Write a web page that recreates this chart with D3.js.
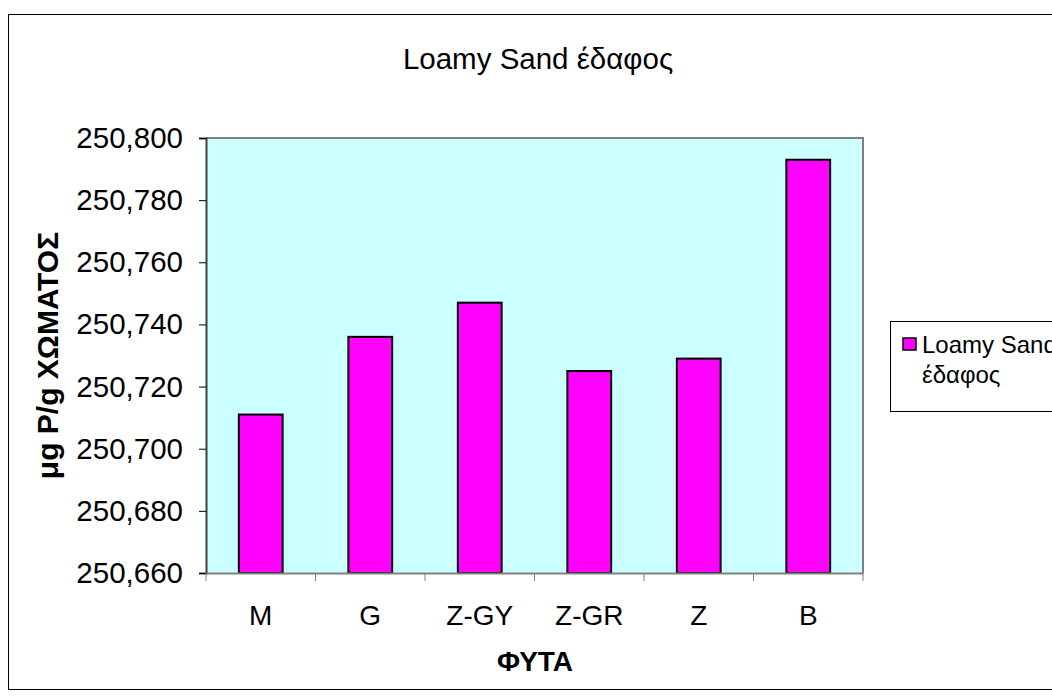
<!DOCTYPE html>
<html>
<head>
<meta charset="utf-8">
<script src="https://cdn.jsdelivr.net/npm/d3@7"></script>
<style>
  html, body { margin: 0; padding: 0; background: #ffffff; }
  svg { display: block; }
  text { font-family: "Liberation Sans", Arial, sans-serif; fill: #000; }
</style>
</head>
<body>
<svg id="chart" width="1052" height="698"></svg>
<script>
// Plant categories and measured soil P (μg P/g soil)
const categories = ["M", "G", "Z-GY", "Z-GR", "Z", "B"];
const values = [250.711, 250.736, 250.747, 250.725, 250.729, 250.793];
const yTicks = [250.660, 250.680, 250.700, 250.720, 250.740, 250.760, 250.780, 250.800];
const seriesName = ["Loamy Sand", "έδαφος"];
const chartTitle = "Loamy Sand έδαφος";
const xTitle = "ΦΥΤΑ";
const yTitle = "μg P/g ΧΩΜΑΤΟΣ";

const svg = d3.select("#chart");
const plot = { left: 206, right: 863, top: 138, bottom: 573 };

// Comma as decimal separator
const loc = d3.formatLocale({ decimal: ",", thousands: ".", grouping: [3], currency: ["", ""] });
const fmt = loc.format(".3f");

// Outer chart frame
svg.append("rect")
  .attr("x", 8.5).attr("y", 14.5)
  .attr("width", 1100).attr("height", 675)
  .attr("fill", "#fff").attr("stroke", "#000").attr("stroke-width", 1);

const x = d3.scaleBand().domain(categories).range([plot.left, plot.right]).padding(0);
const y = d3.scaleLinear().domain([250.66, 250.80]).range([plot.bottom, plot.top]);

// Plot area background
svg.append("rect")
  .attr("x", plot.left).attr("y", plot.top)
  .attr("width", plot.right - plot.left).attr("height", plot.bottom - plot.top)
  .attr("fill", "#CCFFFF");

// Plot area frame (top and right)
svg.append("path")
  .attr("d", `M${plot.left},${plot.top}H${plot.right}V${plot.bottom}`)
  .attr("fill", "none").attr("stroke", "#808080").attr("stroke-width", 2);

// Bars
const barW = x.bandwidth() * 0.4;
svg.append("g").selectAll("rect")
  .data(categories)
  .join("rect")
  .attr("x", (d) => x(d) + (x.bandwidth() - barW) / 2)
  .attr("y", (d, i) => y(values[i]))
  .attr("width", barW)
  .attr("height", (d, i) => y(250.66) - y(values[i]))
  .attr("fill", "#FF00FF")
  .attr("stroke", "#000")
  .attr("stroke-width", 2);

// Y axis
const yAxis = svg.append("g")
  .attr("transform", `translate(${plot.left},0)`)
  .call(d3.axisLeft(y).tickValues(yTicks).tickFormat(fmt).tickSize(7).tickPadding(16));
yAxis.select(".domain").attr("stroke", "#404040").attr("stroke-width", 2);
yAxis.selectAll(".tick line").attr("stroke", "#000");
yAxis.selectAll(".tick text")
  .style("font-family", "'Liberation Sans', Arial, sans-serif")
  .style("font-size", "29.5px").attr("fill", "#000");

// X axis with ticks at category boundaries
const xAxis = svg.append("g")
  .attr("transform", `translate(0,${plot.bottom})`)
  .call(d3.axisBottom(x).tickSize(0).tickPadding(32));
xAxis.select(".domain").attr("stroke", "#808080").attr("stroke-width", 2);
xAxis.selectAll(".tick text")
  .style("font-family", "'Liberation Sans', Arial, sans-serif")
  .style("font-size", "28px").attr("fill", "#000");
const bounds = categories.map((d) => x(d)).concat([plot.right]);
svg.append("g").selectAll("line")
  .data(bounds)
  .join("line")
  .attr("x1", (d) => d).attr("x2", (d) => d)
  .attr("y1", plot.bottom).attr("y2", plot.bottom + 8)
  .attr("stroke", "#808080").attr("stroke-width", 1);

// Titles
svg.append("text")
  .attr("x", 538).attr("y", 69)
  .attr("text-anchor", "middle")
  .style("font-size", "29.5px")
  .text(chartTitle);

svg.append("text")
  .attr("x", 535).attr("y", 671)
  .attr("text-anchor", "middle")
  .style("font-size", "28px").style("font-weight", "bold")
  .text(xTitle);

svg.append("text")
  .attr("transform", `translate(58,${(plot.top + plot.bottom) / 2}) rotate(-90)`)
  .attr("text-anchor", "middle")
  .style("font-size", "30px").style("font-weight", "bold")
  .text(yTitle);

// Legend
const lg = svg.append("g");
lg.append("rect")
  .attr("x", 890.5).attr("y", 321.5)
  .attr("width", 200).attr("height", 90)
  .attr("fill", "#fff").attr("stroke", "#000").attr("stroke-width", 1);
lg.append("rect")
  .attr("x", 903).attr("y", 338)
  .attr("width", 13).attr("height", 12)
  .attr("fill", "#FF00FF").attr("stroke", "#000").attr("stroke-width", 1.5);
lg.append("text")
  .attr("x", 922).attr("y", 353)
  .style("font-size", "24px")
  .selectAll("tspan")
  .data(seriesName)
  .join("tspan")
  .attr("x", 922)
  .attr("dy", (d, i) => (i === 0 ? 0 : 30))
  .text((d) => d);
</script>
</body>
</html>
